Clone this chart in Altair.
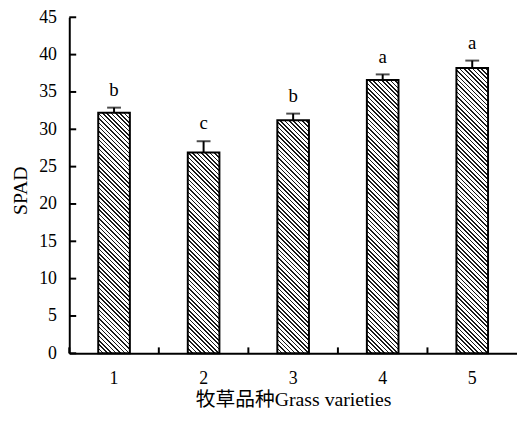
import altair as alt
import pandas as pd

# ---- data ----
varieties = ["1", "2", "3", "4", "5"]
spad_mean = [32.2, 26.9, 31.2, 36.6, 38.2]
spad_err = [0.7, 1.5, 0.9, 0.75, 1.0]
letters = ["b", "c", "b", "a", "a"]
y_ticks = [0, 5, 10, 15, 20, 25, 30, 35, 40, 45]

# ---- style constants ----
PLOT_W = 453
PLOT_H = 340
Y_MAX = 45
BAR_W = 32
PERIOD = 4.4
DARK = 1.6
SERIF = "Liberation Serif"
TITLE_FONT = "Liberation Serif, Noto Sans CJK SC"

df = pd.DataFrame({
    "cat": varieties,
    "mean": spad_mean,
    "top": [m + e for m, e in zip(spad_mean, spad_err)],
    "letter": letters,
})
ticks_df = pd.DataFrame({"t": y_ticks})

xscale = alt.Scale(type="band", paddingInner=0, paddingOuter=0, domain=varieties)
yscale = alt.Scale(domain=[0, Y_MAX], nice=False, zero=True)

AX = alt.Axis(title="牧草品种Grass varieties", labelAngle=0,
              ticks=False, tickSize=0, labelPadding=17,
              labelFont=SERIF, labelFontSize=18, labelColor="black",
              titleFont=TITLE_FONT, titleFontSize=20,
              titleFontWeight="normal", titleColor="black",
              titlePadding=2, domainColor="black", domainWidth=2)
AY = alt.Axis(title="SPAD", values=y_ticks, grid=False,
              ticks=False, tickSize=0, labelPadding=13,
              labelFont=SERIF, labelFontSize=18, labelColor="black",
              titleFont=SERIF, titleFontSize=20,
              titleFontWeight="normal", titleColor="black",
              titleX=-49, titleY=PLOT_H / 2 + 5,
              titleBaseline="middle",
              domainColor="black", domainWidth=2)


def X(**kw):
    return alt.X("cat:N", scale=xscale, sort=varieties, axis=AX, **kw)


def Y(field):
    return alt.Y(field, scale=yscale, axis=AY)


def hatch(value):
    h = value * PLOT_H / Y_MAX
    w = BAR_W
    L = w + h
    stops = []
    k = 0
    while k * PERIOD <= L:
        a = k * PERIOD / L
        b = min((k * PERIOD + DARK) / L, 1.0)
        stops += [
            alt.GradientStop(offset=a, color="white"),
            alt.GradientStop(offset=a, color="#1a1a1a"),
            alt.GradientStop(offset=b, color="#1a1a1a"),
            alt.GradientStop(offset=b, color="white"),
        ]
        k += 1
    d = w * w + h * h
    return alt.LinearGradient(
        gradient="linear",
        stops=stops,
        x1=0, y1=1,
        x2=w * L / d, y2=1 - h * L / d,
    )


base = alt.Chart(df)

bar_layers = []
for c, v in zip(varieties, spad_mean):
    bar_layers.append(
        base.transform_filter(alt.datum.cat == c)
        .mark_bar(width=BAR_W, fill=hatch(v), stroke="black", strokeWidth=2)
        .encode(x=X(), y=Y("mean:Q"))
    )

err_rule = base.mark_rule(color="black", strokeWidth=2).encode(
    x=X(), y=Y("mean:Q"), y2="top:Q",
)
err_cap = base.mark_tick(color="black", size=14, thickness=2, orient="horizontal").encode(
    x=X(), y=Y("top:Q"),
)
letter_text = base.mark_text(font=SERIF, fontSize=19, dy=-12, baseline="alphabetic",
                             color="black").encode(
    x=X(), y=Y("top:Q"), text="letter:N",
)

y_inticks = alt.Chart(ticks_df).mark_rule(color="black", strokeWidth=2).encode(
    y=Y("t:Q"),
    x=alt.value(0),
    x2=alt.value(7),
)
x_inticks = base.mark_rule(color="black", strokeWidth=2).encode(
    x=X(bandPosition=0),
    y=alt.value(PLOT_H),
    y2=alt.value(PLOT_H - 6),
)

chart = alt.layer(*bar_layers, err_rule, err_cap, letter_text, y_inticks, x_inticks).properties(
    width=PLOT_W,
    height=PLOT_H,
    autosize=alt.AutoSizeParams(type="none"),
    padding={"left": 62, "top": 7, "right": 0, "bottom": 58},
    background="white",
).configure_view(stroke=None)

chart.save("out.html", embed_options={"renderer": "svg", "actions": False})
